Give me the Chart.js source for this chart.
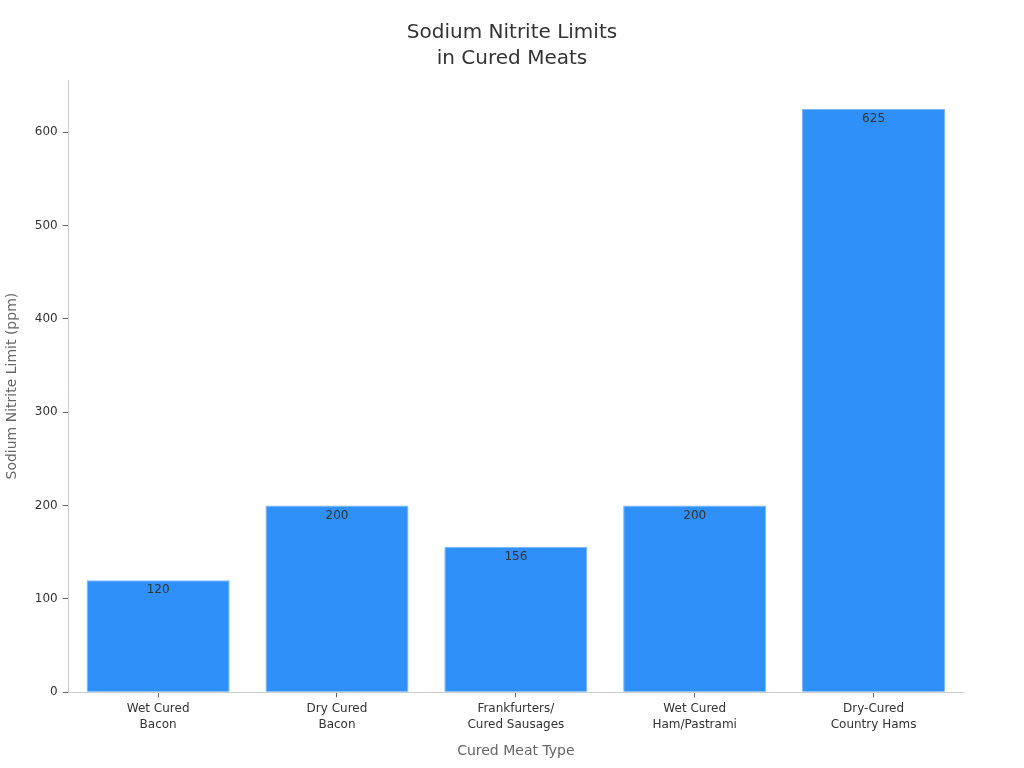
<!DOCTYPE html>
<html>
<head>
<meta charset="utf-8">
<script src="https://cdn.jsdelivr.net/npm/chart.js@4"></script>
<style>
  body { margin: 0; background: #fff; }
  #wrap { width: 1024px; height: 768px; }
</style>
</head>
<body>
<div id="wrap"><canvas id="chart" width="1024" height="768"></canvas></div>
<script>
// chart data
const chartTitle = ['Sodium Nitrite Limits', 'in Cured Meats'];
const categories = [
    ['Wet Cured', 'Bacon'],
    ['Dry Cured', 'Bacon'],
    ['Frankfurters/', 'Cured Sausages'],
    ['Wet Cured', 'Ham/Pastrami'],
    ['Dry-Cured', 'Country Hams']
];
const nitriteLimits = [120, 200, 156, 200, 625];
const yTicks = [0, 100, 200, 300, 400, 500, 600];

Chart.defaults.font.family = 'DejaVu Sans, sans-serif';

// draws the value just inside the top of each bar
const barValueLabels = {
    id: 'barValueLabels',
    afterDatasetsDraw(chart) {
        const ctx = chart.ctx;
        const meta = chart.getDatasetMeta(0);
        ctx.save();
        ctx.font = '12px "DejaVu Sans"';
        ctx.fillStyle = '#333333';
        ctx.textAlign = 'center';
        ctx.textBaseline = 'middle';
        meta.data.forEach((bar, i) => {
            ctx.fillText(nitriteLimits[i], bar.x, bar.y + 10);
        });
        ctx.restore();
    }
};

// title centred on the whole canvas, not on the padded chart box
const centredTitle = {
    id: 'centredTitle',
    afterDraw(chart) {
        const ctx = chart.ctx;
        ctx.save();
        ctx.font = '20px "DejaVu Sans"';
        ctx.fillStyle = '#333333';
        ctx.textAlign = 'center';
        ctx.textBaseline = 'middle';
        chartTitle.forEach((line, i) => {
            ctx.fillText(line, chart.width / 2, 33 + i * 26);
        });
        ctx.restore();
    }
};

const ctx = document.getElementById('chart').getContext('2d');
new Chart(ctx, {
    type: 'bar',
    data: {
        labels: categories,
        datasets: [{
            data: nitriteLimits,
            backgroundColor: '#2e90f8',
            borderColor: '#7ab8fa',
            borderWidth: 1,
            barPercentage: 0.8,
            categoryPercentage: 1
        }]
    },
    options: {
        responsive: false,
        animation: false,
        layout: { padding: { left: 0, right: 61, top: 80, bottom: 4 } },
        plugins: {
            legend: { display: false },
            tooltip: { enabled: false }
        },
        scales: {
            x: {
                grid: { drawOnChartArea: false, drawTicks: true, tickLength: 5, color: '#666666', offset: false },
                border: { color: '#cccccc' },
                ticks: { color: '#333333', font: { size: 12, lineHeight: 1.33 }, maxRotation: 0, padding: 4 },
                title: {
                    display: true,
                    text: 'Cured Meat Type',
                    color: '#666666',
                    font: { size: 14 },
                    padding: { top: 6 }
                }
            },
            y: {
                min: 0,
                max: 656,
                afterBuildTicks(axis) {
                    axis.ticks = yTicks.map(v => ({ value: v }));
                },
                grid: { drawOnChartArea: false, drawTicks: true, tickLength: 6, color: '#666666' },
                border: { color: '#cccccc' },
                ticks: { color: '#333333', font: { size: 12 }, padding: 5 },
                title: {
                    display: true,
                    text: 'Sodium Nitrite Limit (ppm)',
                    color: '#666666',
                    font: { size: 14 },
                    padding: { bottom: 9 }
                }
            }
        }
    },
    plugins: [barValueLabels, centredTitle]
});
</script>
</body>
</html>
